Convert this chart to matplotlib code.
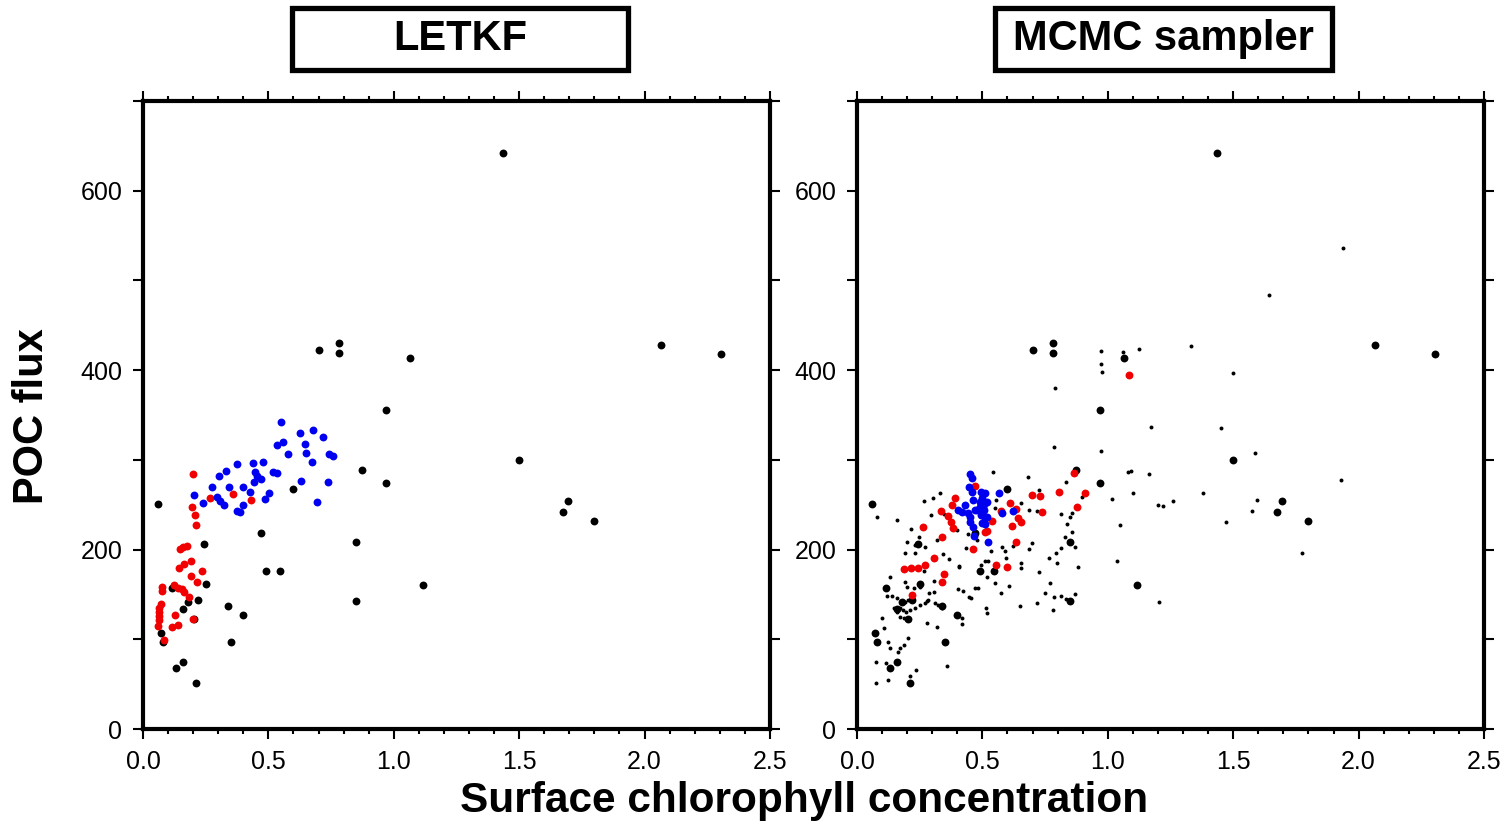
import numpy as np
import matplotlib
matplotlib.use("Agg")
from matplotlib import pyplot as plt
from matplotlib.patches import Rectangle
from matplotlib.ticker import MultipleLocator, FixedLocator

plt.rcParams['font.family'] = ['Liberation Sans', 'DejaVu Sans']

# observations (big black dots, same in both panels)
obs_chl = [0.06, 1.435, 0.70, 0.78, 0.78, 1.065, 0.97, 0.875, 0.97, 0.60, 1.50, 1.695, 1.675,
           1.80, 2.065, 2.305, 0.85, 0.85, 1.115, 0.47, 0.49, 0.545, 0.245, 0.25, 0.34, 0.40,
           0.35, 0.13, 0.16, 0.21, 0.117, 0.18, 0.22, 0.16, 0.205, 0.072, 0.078]
obs_poc = [251, 642, 423, 430, 419, 414, 356, 289, 274, 267, 300, 254, 242,
           232, 428, 418, 208, 143, 161, 219, 176, 176, 206, 162, 137, 127,
           97, 68, 75, 51, 157, 142, 143.5, 133.5, 122.7, 106.7, 96.7]

# LETKF
letkf_red_chl = [0.20, 0.267, 0.359, 0.432, 0.197, 0.207, 0.21, 0.174, 0.158, 0.146, 0.193, 0.163,
                 0.144, 0.235, 0.19, 0.215, 0.122, 0.138, 0.077, 0.077, 0.154, 0.162, 0.185, 0.07,
                 0.063, 0.065, 0.064, 0.064, 0.059, 0.128, 0.138, 0.114, 0.20, 0.084]
letkf_red_poc = [284, 257, 261.6, 255, 247, 238.7, 227.5, 204.4, 203.3, 200.4, 187.7, 184,
                 179, 176.5, 171, 164, 160.6, 157.6, 158, 153.6, 155.8, 152.4, 147.5, 139,
                 135.3, 130.5, 126, 121.6, 115.2, 127, 115.6, 114, 122.7, 99.6]
letkf_blue_chl = [0.549, 0.625, 0.677, 0.719, 0.559, 0.534, 0.645, 0.577, 0.65, 0.74, 0.756, 0.674,
                  0.44, 0.48, 0.375, 0.331, 0.303, 0.445, 0.453, 0.52, 0.533, 0.472, 0.444, 0.63,
                  0.736, 0.275, 0.344, 0.399, 0.427, 0.501, 0.485, 0.202, 0.294, 0.307, 0.24,
                  0.323, 0.399, 0.376, 0.387, 0.695]
letkf_blue_poc = [342.4, 330.5, 333, 325.3, 320.4, 316.3, 317.4, 306.7, 307.4, 306.7, 304.4, 297.8,
                  296.6, 297.4, 295.5, 287.7, 282.5, 286.6, 282.1, 286.2, 285, 278.4, 275.4, 276.9,
                  275, 269.5, 269.9, 269.9, 264.3, 263.2, 256.8, 260.6, 259, 254.6, 252,
                  249.5, 249.5, 243.4, 242, 253.5]

# MCMC sampler
mcmc_red_chl = [0.391, 0.38, 0.334, 0.364, 0.375, 0.384, 0.264, 0.338, 0.464, 0.308, 0.271, 0.242,
                0.215, 0.189, 0.47, 0.865, 0.804, 0.908, 0.699, 0.731, 0.877, 0.738, 0.611, 0.573,
                0.635, 0.642, 0.655, 0.538, 0.618, 0.509, 0.52, 0.635, 0.555, 0.6, 0.348, 0.338,
                0.218, 1.083]
mcmc_red_poc = [257, 249.8, 243, 237.5, 231, 224.5, 225, 214.5, 200.7, 191, 183, 180,
                179, 178, 271, 285, 264.6, 262.8, 261, 260.2, 247.8, 242.3, 252.3, 243.4,
                245, 235, 231, 232.3, 226.7, 220, 221, 209, 183, 180.3, 172.8, 164.3,
                149.4, 394.8]
mcmc_blue_chl = [0.452, 0.457, 0.447, 0.46, 0.464, 0.431, 0.404, 0.417, 0.444, 0.47, 0.45, 0.464,
                 0.468, 0.495, 0.51, 0.50, 0.495, 0.51, 0.49, 0.505, 0.495, 0.51, 0.50, 0.565,
                 0.578, 0.622, 0.522, 0.49, 0.504, 0.517, 0.477, 0.497, 0.45, 0.517, 0.51]
mcmc_blue_poc = [284, 279.5, 269.5, 264.6, 255, 250, 244, 242.3, 240.5, 244, 231, 225.6,
                 215, 264.6, 262.8, 257, 253.4, 251.5, 247.8, 244, 238.6, 235, 229.4, 262.8,
                 240.5, 243, 209, 253.5, 247.9, 253.5, 244.2, 240.5, 236.8, 236.8, 228.6]
mcmc_samp_chl = [0.078, 0.158, 0.268, 0.304, 0.33, 0.295, 0.215, 0.247, 0.198, 0.231, 0.271, 0.319,
                 0.347, 0.397, 0.435, 0.191, 0.231, 0.342, 0.367, 0.408, 0.441, 0.477,
                 0.787, 0.972, 0.543, 0.682, 0.832, 0.726, 0.555, 0.655, 0.551, 0.686, 0.719, 0.812,
                 0.858, 0.85, 0.838, 0.858, 0.897, 0.83, 0.812, 0.868, 0.698, 0.685, 0.622, 0.578,
                 0.536, 0.591, 0.766, 0.795, 0.509, 0.522, 0.496, 0.595, 0.655, 0.799, 0.881,
                 0.132, 0.191, 0.198, 0.267, 0.307, 0.407, 0.287, 0.307, 0.228, 0.251, 0.401, 0.424,
                 0.47, 0.455, 0.447, 0.118, 0.138, 0.158, 0.178, 0.191, 0.205, 0.149, 0.171, 0.185,
                 0.158, 0.194, 0.211, 0.231, 0.251, 0.271, 0.278, 0.284, 0.311, 0.324, 0.34, 0.171,
                 0.189, 0.205, 0.098, 0.109, 0.125, 0.132, 0.171, 0.162, 0.189, 0.205, 0.278, 0.319,
                 0.417, 0.42, 0.074, 0.116, 0.125, 0.074, 0.235, 0.211, 0.358,
                 0.655, 0.726, 0.52, 0.549, 0.605, 0.771, 0.573, 0.751, 0.785, 0.815, 0.832, 0.87,
                 0.513, 0.517, 0.651, 0.718, 0.78, 0.482,
                 0.972, 1.062, 1.123, 0.972, 0.978, 1.332, 1.501, 0.788, 1.172, 1.451, 1.082, 1.091,
                 1.166, 1.102, 1.381, 1.199, 1.219, 1.261, 1.016, 1.049, 1.471, 1.035, 1.205,
                 1.939, 1.644, 1.587, 1.596, 1.576, 1.931, 1.773]
mcmc_samp_poc = [236.8, 233, 254, 257, 263, 239, 223, 214.5, 209, 205, 202.6, 210.8,
                 239.8, 222, 202, 196.6, 196.6, 195, 190, 182, 217, 210.8,
                 314.8, 310, 286, 281.3, 275.8, 266.5, 255.4, 251.7, 246, 244, 243.4, 239.8,
                 240.5, 236, 228.3, 220, 259, 213.8, 201.5, 203.3, 207, 200.4, 204.4, 202.6,
                 198.8, 198.5, 190.4, 196.6, 187.7, 187.7, 183, 190.4, 185.5, 184.8, 181,
                 169.9, 164.3, 158.7, 175.7, 165, 181, 152, 153, 157.6, 158.7, 155.8, 153.9,
                 156.9, 145.8, 147.5, 148.7, 148.7, 145.8, 142.7, 141.3, 143.9, 135.3, 135.3, 132.7,
                 130, 130.8, 132.7, 134.6, 138.3, 140.2, 142.7, 143.9, 140.2, 138.3, 135.3, 125.3,
                 124.1, 123.4, 124.1, 112.3, 96.7, 90.7, 90.7, 85.5, 93.7, 101.8, 118.5, 114.1,
                 123.4, 117.1, 75, 73.3, 54.6, 51.6, 65.8, 59.5, 70.6,
                 179.9, 174.7, 169.9, 162.5, 159.8, 163.2, 151.7, 151.7, 147.2, 148.7, 144.6, 150.5,
                 134.6, 129, 137.5, 140.2, 132.7, 157,
                 421.5, 420.8, 423.8, 406.7, 397.8, 426.4, 396.7, 380, 336.4, 335.7, 286.3, 288,
                 284.4, 262.8, 262.8, 249.8, 248.7, 253.9, 256.2, 227.5, 230.5, 187.7, 142,
                 536, 484, 308, 255.4, 242.8, 278, 196]

titles = ['LETKF', 'MCMC sampler']

fig = plt.figure(figsize=(15.08, 8.22), dpi=100)
ax1 = fig.add_axes([0.0948, 0.1131, 0.4158, 0.764])
ax2 = fig.add_axes([0.5683, 0.1131, 0.4158, 0.764])

big = 32
small = 8

ax1.scatter(obs_chl, obs_poc, s=big, c='black', linewidths=0, zorder=3)
ax1.scatter(letkf_red_chl, letkf_red_poc, s=big, c='#f00000', linewidths=0, zorder=4)
ax1.scatter(letkf_blue_chl, letkf_blue_poc, s=big, c='#0000f0', linewidths=0, zorder=5)

ax2.scatter(mcmc_samp_chl, mcmc_samp_poc, s=small, c='black', linewidths=0, zorder=2)
ax2.scatter(obs_chl, obs_poc, s=big, c='black', linewidths=0, zorder=3)
ax2.scatter(mcmc_red_chl, mcmc_red_poc, s=big, c='#f00000', linewidths=0, zorder=4)
ax2.scatter(mcmc_blue_chl, mcmc_blue_poc, s=big, c='#0000f0', linewidths=0, zorder=5)

for ax in (ax1, ax2):
    ax.set_xlim(0, 2.5)
    ax.set_ylim(0, 700)
    for sp in ax.spines.values():
        sp.set_linewidth(3)
    ax.xaxis.set_major_locator(MultipleLocator(0.5))
    ax.xaxis.set_minor_locator(MultipleLocator(0.1))
    ax.set_xticklabels([f'{v:.1f}' for v in ax.get_xticks()])
    ax.yaxis.set_major_locator(FixedLocator([0, 200, 400, 600]))
    ax.yaxis.set_minor_locator(FixedLocator([100, 300, 500, 700]))
    ax.tick_params(which='both', direction='out', top=True, right=True, width=1.5,
                   labelsize=18, pad=8)
    ax.tick_params(axis='x', which='major', length=7)
    ax.tick_params(axis='x', which='minor', length=3.5)
    ax.tick_params(axis='y', which='both', length=7)

# title boxes
boxes = [(0.1936, 0.4164), (0.6598, 0.8833)]
for (x0, x1), t in zip(boxes, titles):
    fig.patches.append(Rectangle((x0, 0.9148), x1 - x0, 0.0755, transform=fig.transFigure,
                                 fill=False, edgecolor='black', linewidth=3.8))
    fig.text((x0 + x1) / 2, 0.9526, t, ha='center', va='center', fontsize=30,
             fontweight='bold')

fig.text(0.0215, 0.494, 'POC flux', rotation=90, ha='center', va='center',
         fontsize=30, fontweight='bold')
fig.text(0.5335, 0.025, 'Surface chlorophyll concentration', ha='center', va='center',
         fontsize=30.5, fontweight='bold')

fig.savefig('out.png', dpi=100)
